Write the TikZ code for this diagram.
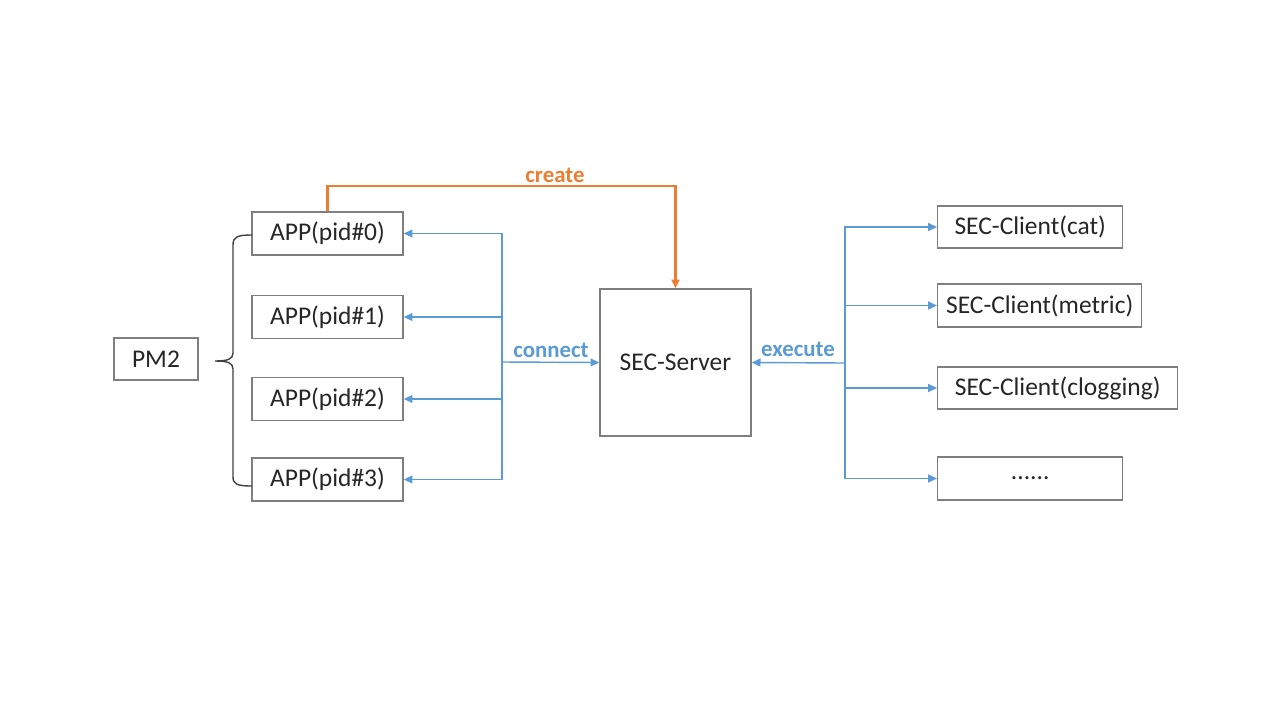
\documentclass[tikz,border=0pt]{standalone}
\usepackage{fontspec}
\setmainfont{Carlito}
\usetikzlibrary{arrows.meta}
\definecolor{linkblue}{HTML}{5B9BD5}
\definecolor{makeorange}{HTML}{ED7D31}
\definecolor{boxgray}{HTML}{7F7F7F}

\begin{document}
\begin{tikzpicture}[x=0.02cm,y=-0.02cm,
		box/.style={draw=boxgray,line width=0.8pt,inner sep=0pt,font=\fontsize{14.5}{16}\selectfont,text=black!85},
		link/.style={draw=linkblue,line width=0.8pt,-{Triangle[length=5pt,width=4.5pt]}},
		lab/.style={font=\fontsize{13}{15}\selectfont\bfseries}]
		\useasboundingbox (0,0) rectangle (1280,720);
		% left part
		\node[box,minimum width=84*0.02cm,minimum height=42*0.02cm] (pm2) at (156,359) {PM2};
		\node[box,minimum width=151*0.02cm,minimum height=43*0.02cm] (app0) at (327.5,233.5) {APP(pid\#0)};
		\node[box,minimum width=151*0.02cm,minimum height=43*0.02cm] (app1) at (327.5,317) {APP(pid\#1)};
		\node[box,minimum width=151*0.02cm,minimum height=43*0.02cm] (app2) at (327.5,399) {APP(pid\#2)};
		\node[box,minimum width=151*0.02cm,minimum height=43*0.02cm] (app3) at (327.5,479.5) {APP(pid\#3)};
		\coordinate (bt) at (252,235);
		\coordinate (bb) at (252,486);
		\coordinate (tip) at (215,361);
		\draw[black!75,line width=0.8pt] (bt) .. controls (237,235) and (233,237) .. (233,245) -- (233,353)
			.. controls (233,359) and (228,361) .. (tip) .. controls (228,361) and (233,363) .. (233,369)
			-- (233,477) .. controls (233,484) and (237,486) .. (bb);
		% server
		\node[box,minimum width=151*0.02cm,minimum height=147*0.02cm] (server) at (675.5,362.5) {SEC-Server};
		% clients
		\node[box,anchor=west,minimum width=185*0.02cm,minimum height=42*0.02cm] (cat) at (937,227) {SEC-Client(cat)};
		\node[box,anchor=west,minimum width=204*0.02cm,minimum height=43*0.02cm] (metric) at (937,305.5) {SEC-Client(metric)};
		\node[box,anchor=west,minimum width=240*0.02cm,minimum height=42*0.02cm] (clog) at (937,388) {SEC-Client(clogging)};
		\node[box,anchor=west,minimum width=185*0.02cm,minimum height=43*0.02cm] (more) at (937,478.5) {......};
		% connect
		\coordinate (cj) at (502,362);
		\draw[link] (cj) |- (app0.east);
		\draw[link] (cj) |- (app1.east);
		\draw[link] (cj) |- (app2.east);
		\draw[link] (cj) |- (app3.east);
		\draw[link] (cj) -- (server.west);
		\node[lab,text=linkblue] (conlab) at (551,350) {connect};
		% execute
		\coordinate (ej) at (845,363);
		\draw[link] (ej) -- (server.east);
		\draw[link] (ej) |- (cat.west);
		\draw[link] (ej) |- (metric.west);
		\draw[link] (ej) |- (clog.west);
		\draw[link] (ej) |- (more.west);
		\node[lab,text=linkblue] (exlab) at (798,349) {execute};
		% create
		\draw[draw=makeorange,line width=1.3pt,-{Triangle[length=5pt,width=4.5pt]}] (app0.north) -- ++(0,-25) -| (server.north);
		\node[lab,text=makeorange] (crlab) at (555,175) {create};
\end{tikzpicture}
\end{document}
